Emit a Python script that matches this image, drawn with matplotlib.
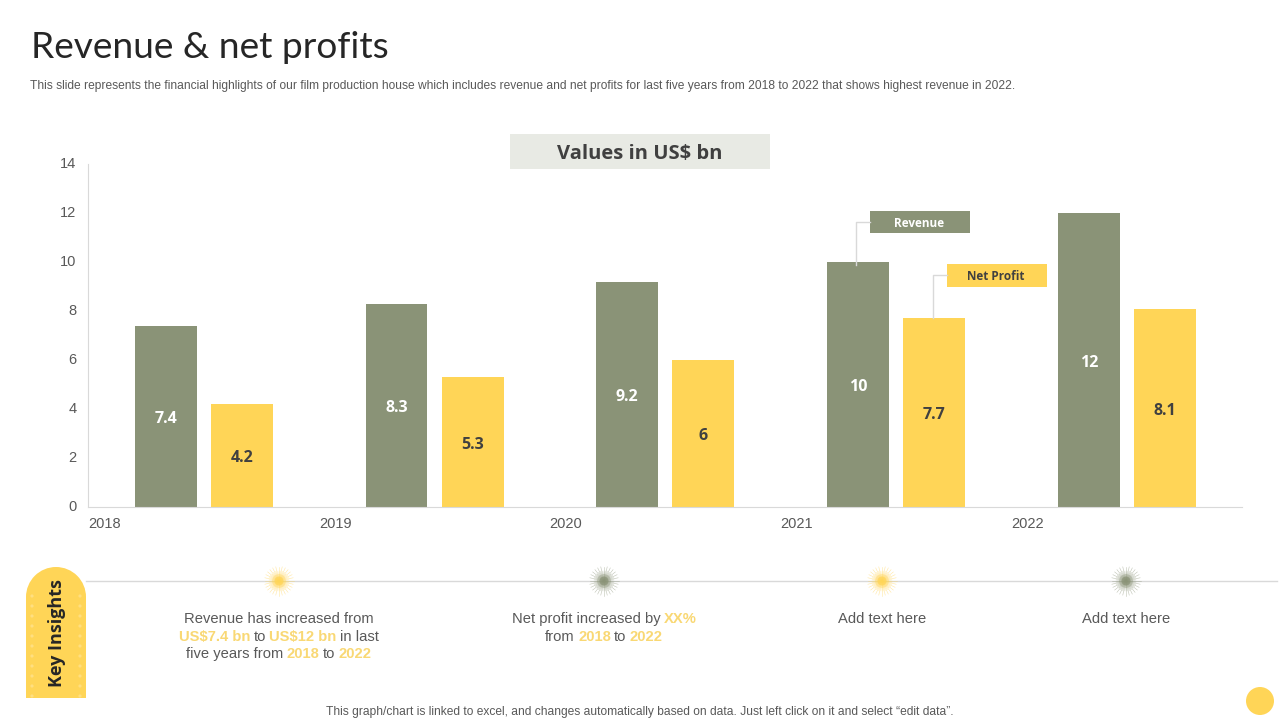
import math
import matplotlib
matplotlib.use("Agg")
import matplotlib.pyplot as plt
from matplotlib.patches import Circle, Rectangle, Wedge
from matplotlib.transforms import ScaledTranslation

years = ["2018", "2019", "2020", "2021", "2022"]
revenue = [7.4, 8.3, 9.2, 10, 12]
net_profit = [4.2, 5.3, 6, 7.7, 8.1]
y_ticks = [0, 2, 4, 6, 8, 10, 12, 14]

OLIVE = "#8A9377"
YELLOW = "#FFD557"
HILITE = "#F9D874"
GREY = "#595959"
BODY = "Liberation Sans"
BOLD = "Open Sans"

fig = plt.figure(figsize=(12.8, 7.2), dpi=100, facecolor="white")

# chart area, pixel box 88..1242 x 164..507
ax = fig.add_axes([88.4 / 1280, 1 - 507 / 720, (1242.2 - 88.4) / 1280, (507 - 164) / 720])
x = list(range(len(years)))
offset = 0.165
width = 0.268
ax.bar([i - offset for i in x], revenue, width, color=OLIVE)
ax.bar([i + offset for i in x], net_profit, width, color=YELLOW)
for i in x:
    ax.annotate(str(revenue[i]), (i - offset, revenue[i] / 2), xytext=(0, -2), textcoords="offset points",
                color="white", ha="center", va="center", fontsize=11.5, fontweight="bold", family=BOLD)
    ax.annotate(str(net_profit[i]), (i + offset, net_profit[i] / 2), xytext=(0, -2), textcoords="offset points",
                color="#404040", ha="center", va="center", fontsize=11.5, fontweight="bold", family=BOLD)
ax.set_xlim(-0.5, 4.5)
ax.set_ylim(0, 14)
ax.set_yticks(y_ticks)
ax.set_xticks([])
ax.tick_params(axis="y", length=0, pad=8.5, labelsize=10.5, labelcolor=GREY)
for lab in ax.get_yticklabels():
    lab.set_family(BODY)
    lab.set_transform(lab.get_transform() + ScaledTranslation(0, 1 / 72, fig.dpi_scale_trans))
for s in ["top", "right"]:
    ax.spines[s].set_visible(False)
for s in ["left", "bottom"]:
    ax.spines[s].set_color("#D9D9D9")
# year labels sit at the left of each category, as in the original
for i in x:
    ax.annotate(years[i], (i - 0.5, 0), xytext=(16 * 0.72, -17 * 0.72), textcoords="offset points",
                ha="center", va="center", fontsize=10.5, color=GREY, family=BODY)

# overlay in pixel coordinates for the slide furniture
ov = fig.add_axes([0, 0, 1, 1], facecolor="none")
ov.set_xlim(0, 1280)
ov.set_ylim(720, 0)
ov.axis("off")

ov.text(31, 47, "Revenue & net profits", fontsize=26.7, color="#262626", va="center", ha="left", family="Lato")
ov.text(30, 85.5, "This slide represents the financial highlights of our film production house which includes revenue "
        "and net profits for last five years from 2018 to 2022 that shows highest revenue in 2022.",
        fontsize=8.61, color=GREY, va="center", ha="left", family=BODY)

ov.add_patch(Rectangle((510, 134), 260, 35, color="#E8EAE4", lw=0))
ov.text(640, 154.5, "Values in US$ bn", fontsize=14.5, fontweight="bold", color="#404040", ha="center", va="center",
        family=BOLD)

# callouts
ov.plot([870, 855.5, 855.5], [222, 222, 265], color="#D9D9D9", lw=1)
ov.add_patch(Rectangle((870, 211), 100, 22, color=OLIVE, lw=0))
ov.text(919, 223.5, "Revenue", color="white", fontsize=8.5, fontweight="bold", ha="center", va="center", family=BOLD)
ov.plot([947, 932.5, 932.5], [275, 275, 318], color="#D9D9D9", lw=1)
ov.add_patch(Rectangle((947, 264), 100, 23, color=YELLOW, lw=0))
ov.text(996, 276.5, "Net Profit", color="#404040", fontsize=8.5, fontweight="bold", ha="center", va="center",
        family=BOLD)

# insights strip
ov.plot([86, 1277], [581, 581], color="#D9D9D9", lw=1, zorder=1)
ov.add_patch(Wedge((56, 597), 30, 180, 360, color=YELLOW, lw=0))
ov.add_patch(Rectangle((26, 597), 60, 101, color=YELLOW, lw=0))
for k in range(11):
    for px in (32, 80):
        ov.add_patch(Circle((px, 596 + k * 10), 1.6, color="#FFDF80", lw=0))
ov.text(57, 633, "Key Insights", rotation=90, fontsize=13, fontweight="bold", color="#262626", ha="center",
        va="center", family=BOLD)


def burst(cx, cy, color):
    n = 56
    for k in range(n):
        a = 2 * math.pi * k / n
        r = 14.5 if k % 2 == 0 else 10
        ov.plot([cx, cx + r * math.cos(a)], [cy, cy + r * math.sin(a)], color=color, lw=0.4, alpha=0.55, zorder=2)
    ov.add_patch(Circle((cx, cy), 7, color=color, lw=0, alpha=0.35, zorder=3))
    ov.add_patch(Circle((cx, cy), 4.5, color=color, lw=0, alpha=0.7, zorder=3))


burst(279, 581, YELLOW)
burst(604, 581, OLIVE)
burst(882, 581, YELLOW)
burst(1126, 581, OLIVE)

renderer = fig.canvas.get_renderer()


def rich_line(cx, cy, runs, size=10.6):
    # runs are (text, highlighted); measured so the whole line can be centred
    items = []
    total = 0
    for txt, hi in runs:
        t = ov.text(0, cy, txt, fontsize=size, va="center", ha="left", family=BODY,
                    fontweight="bold" if hi else "normal", color=HILITE if hi else GREY)
        w = t.get_window_extent(renderer).width
        items.append((t, w))
        total += w
    gap = 3.2
    total += gap * (len(items) - 1)
    pos = cx - total / 2
    for t, w in items:
        t.set_x(pos)
        pos += w + gap


rich_line(279, 619, [("Revenue has increased from", False)])
rich_line(279, 637, [("US$7.4 bn", True), ("to", False), ("US$12 bn", True), ("in last", False)])
rich_line(279, 654, [("five years from", False), ("2018", True), ("to", False), ("2022", True)])
rich_line(604, 619, [("Net profit increased by", False), ("XX%", True)])
rich_line(604, 637, [("from", False), ("2018", True), ("to", False), ("2022", True)])
rich_line(882, 619, [("Add text here", False)])
rich_line(1126, 619, [("Add text here", False)])

ov.text(640, 712.5, "This graph/chart is linked to excel, and changes automatically based on data. "
        "Just left click on it and select \u201cedit data\u201d.", fontsize=8.64, color=GREY, ha="center", va="center",
        family=BODY)
ov.add_patch(Circle((1260, 701), 14, color=YELLOW, lw=0))

fig.savefig("out.png", dpi=100)
